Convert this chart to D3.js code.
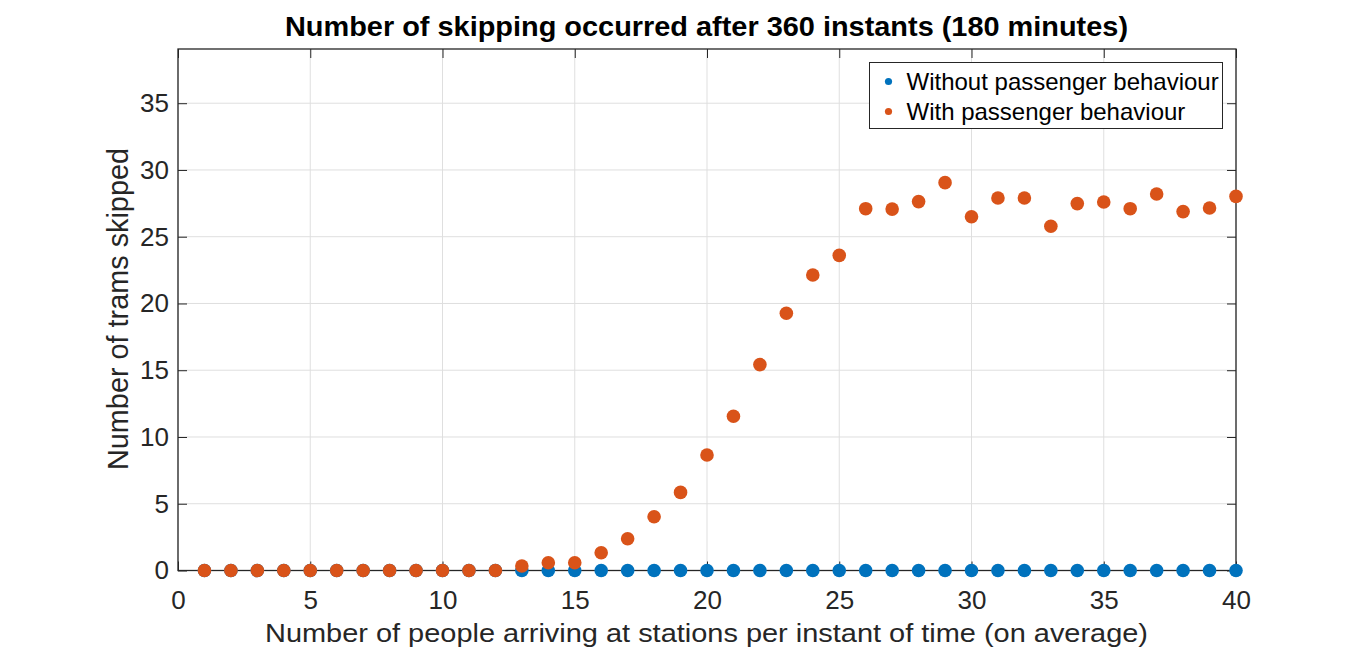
<!DOCTYPE html>
<html>
<head>
<meta charset="utf-8">
<script src="https://cdn.jsdelivr.net/npm/d3@7"></script>
<style>
  body { margin: 0; background: #fff; }
  svg text { font-family: "Liberation Sans", Arial, sans-serif; }
</style>
</head>
<body>
<svg id="chart" width="1366" height="651"></svg>
<script>
// arrival rate (people per instant)
const arrivals = d3.range(1, 41);
// trams skipped without passenger behaviour
const withoutBehaviour = arrivals.map(() => 0);
// trams skipped with passenger behaviour
const withBehaviour = [
  0, 0, 0, 0, 0, 0, 0, 0, 0, 0,
  0, 0, 0.34, 0.58, 0.58, 1.33, 2.38, 4.03, 5.85, 8.65,
  11.55, 15.42, 19.27, 22.13, 23.6, 27.1, 27.07, 27.63, 29.05, 26.5,
  27.9, 27.9, 25.78, 27.48, 27.6, 27.1, 28.2, 26.88, 27.15, 28.02
];
const xTicks = [0, 5, 10, 15, 20, 25, 30, 35, 40];
const yTicks = [0, 5, 10, 15, 20, 25, 30, 35];
const seriesNames = ["Without passenger behaviour", "With passenger behaviour"];
const seriesColors = ["#0072BD", "#D95319"];

const svg = d3.select("#chart");
const mLeft = 178, mRight = 1236, mTop = 49, mBottom = 570.5;

const x = d3.scaleLinear().domain([0, 40]).range([mLeft, mRight]);
const y = d3.scaleLinear().domain([0, 39.06]).range([mBottom, mTop]);

// grid
svg.append("g")
  .selectAll("line")
  .data(xTicks)
  .enter()
  .append("line")
  .attr("x1", d => x(d)).attr("x2", d => x(d))
  .attr("y1", mTop).attr("y2", mBottom)
  .style("stroke", "#dfdfdf");
svg.append("g")
  .selectAll("line")
  .data(yTicks)
  .enter()
  .append("line")
  .attr("x1", mLeft).attr("x2", mRight)
  .attr("y1", d => y(d)).attr("y2", d => y(d))
  .style("stroke", "#dfdfdf");

// axes (ticks inward, box on)
const axisColor = "#262626";
const xAxis = svg.append("g")
  .attr("transform", `translate(0,${mBottom})`)
  .call(d3.axisBottom(x).tickValues(xTicks).tickSizeInner(-9).tickSizeOuter(0).tickPadding(20));
const xTop = svg.append("g")
  .attr("transform", `translate(0,${mTop})`)
  .call(d3.axisTop(x).tickValues(xTicks).tickSizeInner(-9).tickSizeOuter(0).tickFormat(""));
const yAxis = svg.append("g")
  .attr("transform", `translate(${mLeft},0)`)
  .call(d3.axisLeft(y).tickValues(yTicks).tickSizeInner(-9).tickSizeOuter(0).tickPadding(9));
const yRight = svg.append("g")
  .attr("transform", `translate(${mRight},0)`)
  .call(d3.axisRight(y).tickValues(yTicks).tickSizeInner(-9).tickSizeOuter(0).tickFormat(""));

[xAxis, xTop, yAxis, yRight].forEach(g => {
  g.select(".domain").remove();
  g.selectAll("line").style("stroke", axisColor);
  g.selectAll("text")
    .style("font-size", "26px")
    .style("fill", axisColor);
});
xAxis.selectAll("text").attr("dy", "0.71em");

svg.append("rect")
  .attr("x", mLeft).attr("y", mTop)
  .attr("width", mRight - mLeft).attr("height", mBottom - mTop)
  .style("fill", "none")
  .style("stroke", axisColor)
  .style("stroke-width", 1.3);

// points
svg.append("g")
  .selectAll("circle")
  .data(arrivals.map((a, i) => [a, withoutBehaviour[i]]))
  .enter()
  .append("circle")
  .attr("cx", d => x(d[0]))
  .attr("cy", d => y(d[1]))
  .attr("r", 6.8)
  .style("fill", seriesColors[0]);

svg.append("g")
  .selectAll("circle")
  .data(arrivals.map((a, i) => [a, withBehaviour[i]]))
  .enter()
  .append("circle")
  .attr("cx", d => x(d[0]))
  .attr("cy", d => y(d[1]))
  .attr("r", 6.8)
  .style("fill", seriesColors[1]);

// labels
svg.append("text")
  .attr("x", 706.5)
  .attr("y", 36)
  .attr("text-anchor", "middle")
  .attr("textLength", 843)
  .attr("lengthAdjust", "spacingAndGlyphs")
  .style("font-size", "27.5px")
  .style("font-weight", "bold")
  .style("fill", "#000")
  .text("Number of skipping occurred after 360 instants (180 minutes)");

svg.append("text")
  .attr("x", 706.5)
  .attr("y", 642)
  .attr("text-anchor", "middle")
  .attr("textLength", 883)
  .attr("lengthAdjust", "spacingAndGlyphs")
  .style("font-size", "25.5px")
  .style("fill", axisColor)
  .text("Number of people arriving at stations per instant of time (on average)");

svg.append("text")
  .attr("transform", `translate(128,309) rotate(-90)`)
  .attr("text-anchor", "middle")
  .attr("textLength", 322)
  .attr("lengthAdjust", "spacingAndGlyphs")
  .style("font-size", "29px")
  .style("fill", axisColor)
  .text("Number of trams skipped");

// legend
const legend = svg.append("g");
legend.append("rect")
  .attr("x", 869.5).attr("y", 62.5)
  .attr("width", 353).attr("height", 66)
  .style("fill", "#fff")
  .style("stroke", axisColor)
  .style("stroke-width", 1);
seriesNames.forEach((name, i) => {
  legend.append("circle")
    .attr("cx", 888.5)
    .attr("cy", 81.5 + i * 30)
    .attr("r", 3.6)
    .style("fill", seriesColors[i]);
  legend.append("text")
    .attr("x", 906.5)
    .attr("y", 81.5 + i * 30)
    .attr("dy", "0.35em")
    .style("font-size", "24px")
    .style("fill", "#000")
    .text(name);
});
</script>
</body>
</html>
